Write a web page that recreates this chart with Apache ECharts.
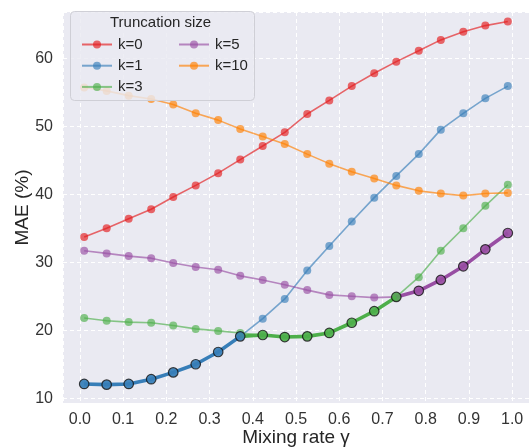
<!DOCTYPE html>
<html>
<head>
<meta charset="utf-8">
<script src="https://cdn.jsdelivr.net/npm/echarts@6/dist/echarts.min.js"></script>
<style>html,body{margin:0;padding:0;background:#fff}#c{width:529px;height:448px}</style>
</head>
<body>
<div id="c"></div>
<script>
const gammas = [0.01, 0.062, 0.113, 0.165, 0.216, 0.268, 0.320, 0.371, 0.423, 0.474, 0.526, 0.577, 0.629, 0.681, 0.732, 0.784, 0.835, 0.887, 0.938, 0.99];
const k0  = [33.7, 35.0, 36.4, 37.8, 39.6, 41.3, 43.1, 45.1, 47.1, 49.1, 51.8, 53.8, 55.9, 57.8, 59.5, 61.1, 62.7, 63.9, 64.8, 65.4];
const k1  = [12.1, 12.0, 12.1, 12.8, 13.8, 15.0, 16.8, 19.1, 21.7, 24.6, 28.8, 32.4, 36.0, 39.5, 42.7, 45.9, 49.5, 51.9, 54.1, 55.9];
const k3  = [21.8, 21.4, 21.2, 21.1, 20.7, 20.2, 19.9, 19.6, 19.3, 19.0, 19.1, 19.6, 21.1, 22.8, 24.9, 27.8, 31.7, 35.0, 38.3, 41.4];
const k5  = [31.7, 31.3, 30.9, 30.6, 29.9, 29.3, 28.9, 28.0, 27.4, 26.7, 25.9, 25.2, 25.0, 24.8, 24.9, 25.8, 27.4, 29.4, 31.9, 34.3];
const k10 = [55.7, 55.2, 54.5, 54.0, 53.2, 51.9, 50.9, 49.6, 48.5, 47.4, 45.9, 44.5, 43.3, 42.3, 41.3, 40.5, 40.1, 39.8, 40.1, 40.2];
const bestVals = [12.1, 12.0, 12.1, 12.8, 13.8, 15.0, 16.8, 19.1, 19.3, 19.0, 19.1, 19.6, 21.1, 22.8, 24.9, 25.8, 27.4, 29.4, 31.9, 34.3];
const bestK    = ['k=1','k=1','k=1','k=1','k=1','k=1','k=1','k=1','k=3','k=3','k=3','k=3','k=3','k=3','k=3','k=5','k=5','k=5','k=5','k=5'];
const seriesNames = ['k=0', 'k=1', 'k=3', 'k=5', 'k=10'];
const yTicks = [10, 20, 30, 40, 50, 60];
const xTicks = [0.0, 0.1, 0.2, 0.3, 0.4, 0.5, 0.6, 0.7, 0.8, 0.9, 1.0];

const colors = {'k=0':'#e41a1c','k=1':'#377eb8','k=3':'#4daf4a','k=5':'#984ea3','k=10':'#ff7f00'};
const dataMap = {'k=0':k0,'k=1':k1,'k=3':k3,'k=5':k5,'k=10':k10};
const FONT = '"Liberation Sans", Arial, sans-serif';

const series = seriesNames.map(n => ({
  name: n, type: 'line',
  data: gammas.map((g, i) => [g, dataMap[n][i]]),
  symbol: 'circle', symbolSize: 8,
  lineStyle: {width: 1.6, color: colors[n], opacity: 0.65},
  itemStyle: {color: colors[n], opacity: 0.65},
  emphasis: {disabled: true},
  z: 2, animation: false
}));

const segKs = ['k=1','k=3','k=5'];
segKs.forEach(kk => {
  const idx = bestK.map((k,i)=>k===kk?i:-1).filter(i=>i>=0);
  let lo = idx[0], hi = idx[idx.length-1];
  if (lo > 0) lo = lo - 1;
  const lineData = [];
  for (let i = lo; i <= hi; i++) lineData.push([gammas[i], bestVals[i]]);
  series.push({
    type: 'line', data: lineData, symbol: 'none',
    lineStyle: {width: 3.6, color: colors[kk]},
    emphasis: {disabled: true}, z: 5, animation: false
  });
});
series.push({
  type: 'scatter',
  data: gammas.map((g,i)=>({value:[g,bestVals[i]], itemStyle:{color:colors[bestK[i]]}})),
  symbol: 'circle', symbolSize: 9.5,
  itemStyle: {borderColor: '#111', borderWidth: 1.2},
  emphasis: {disabled: true}, z: 6, animation: false
});

const legendCommon = {
  orient: 'vertical', itemWidth: 30, itemHeight: 10, itemGap: 6.2,
  textStyle: {fontFamily: FONT, fontSize: 15, color: '#262626', padding: [0,0,0,1]},
  selectedMode: false, z: 20
};

const chart = echarts.init(document.getElementById('c'), null, {renderer: 'canvas'});
chart.setOption({
  backgroundColor: '#ffffff',
  animation: false,
  grid: {left: 63, right: 0, top: 12, bottom: 45, show: true, backgroundColor: '#eaeaf2', borderWidth: 0,
         containLabel: false, outerBoundsMode: 'none'},
  xAxis: {
    type: 'value', min: -0.039, max: 1.039, splitNumber: 10,
    name: 'Mixing rate γ', nameLocation: 'middle', nameGap: 25, nameMoveOverlap: false,
    nameTextStyle: {fontFamily: FONT, fontSize: 19, color: '#262626'},
    axisLine: {show: false}, axisTick: {show: false},
    axisLabel: {fontFamily: FONT, fontSize: 16, color: '#333', margin: 9,
      formatter: v => xTicks.some(t => Math.abs(t - v) < 1e-6) ? v.toFixed(1) : ''},
    splitLine: {show: true, lineStyle: {color: '#ffffff', type: [4,3], width: 1}}
  },
  yAxis: {
    type: 'value', min: 9.3, max: 66.8,
    name: 'MAE (%)', nameLocation: 'middle', nameGap: 31, nameMoveOverlap: false,
    nameTextStyle: {fontFamily: FONT, fontSize: 19, color: '#262626'},
    axisLine: {show: false}, axisTick: {show: false},
    axisLabel: {fontFamily: FONT, fontSize: 16, color: '#333', margin: 10,
      formatter: v => yTicks.some(t => Math.abs(t - v) < 1e-6) ? String(Math.round(v)) : ''},
    splitLine: {show: true, lineStyle: {color: '#ffffff', type: [4,3], width: 1}}
  },
  legend: [
    Object.assign({}, legendCommon, {data: ['k=0','k=1','k=3'], left: 76, top: 32}),
    Object.assign({}, legendCommon, {data: ['k=5','k=10'], left: 173, top: 32})
  ],
  graphic: [
    {type: 'rect', left: 70, top: 11, z: 10,
     shape: {width: 184, height: 89, r: 4},
     style: {fill: 'rgba(234,234,242,0.82)', stroke: '#cfcfd6', lineWidth: 1}},
    {type: 'text', left: 110, top: 15, z: 11,
     style: {text: 'Truncation size', font: '15px "Liberation Sans", Arial, sans-serif', fill: '#262626'}}
  ],
  series: series
});
</script>
</body>
</html>
